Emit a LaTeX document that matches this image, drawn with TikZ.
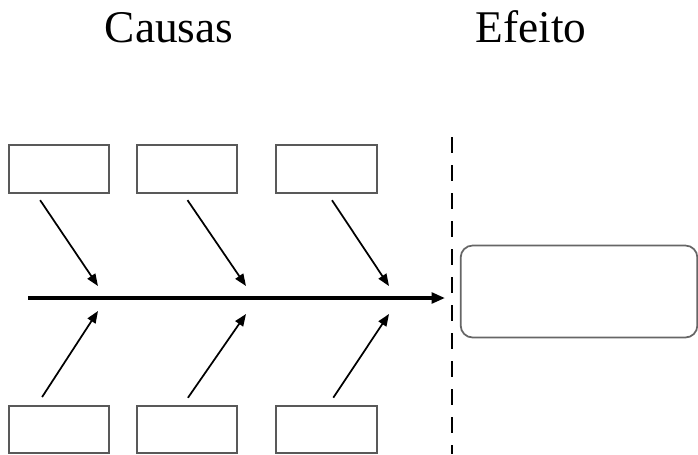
\documentclass[tikz,border=0pt]{standalone}
\usepackage{fontspec}
\setmainfont{Liberation Serif}
\usetikzlibrary{arrows.meta,positioning}

\begin{document}
\begin{tikzpicture}[x=0.75pt,y=-0.75pt]
\tikzstyle{causa}=[draw=black!65,line width=1.3pt,minimum width=75.5pt,minimum height=35.5pt,inner sep=0pt]
\tikzstyle{efeito}=[draw=black!60,line width=1.3pt,rounded corners=9pt,minimum width=177.5pt,minimum height=69pt,inner sep=0pt]
\tikzstyle{seta}=[line width=1.3pt,-{Triangle[length=9pt,width=7pt]}]
\tikzstyle{titulo}=[anchor=base,font=\fontsize{34}{40}\selectfont]

\useasboundingbox (0,0) rectangle (698,454);

\node[titulo] (causas) at (169,42) {Causas};
\node[titulo] (efeitotitulo) at (531,42) {Efeito};

\node[causa] (c1) at (59,169) {};
\node[causa] (c2) at (187,169) {};
\node[causa] (c3) at (326.5,169) {};
\node[causa] (c4) [below = 158.5pt of c1] {};
\node[causa] (c5) [below = 158.5pt of c2] {};
\node[causa] (c6) [below = 158.5pt of c3] {};

\node[efeito] (ef) at (579,291.5) {};

\coordinate (cauda) at (28,298);
\coordinate (ponta) at (445,298);
\coordinate (h1) at (98,286);
\coordinate (h2) at (246,286);
\coordinate (h3) at (389,286);
\coordinate (h4) at (98,311);
\coordinate (h5) at (246,314);
\coordinate (h6) at (389,314);
\coordinate (linhatopo) at (452,137);
\coordinate (linhabase) at (452,454);

\draw[line width=2.2pt,dash pattern=on 12pt off 9pt] (linhatopo) -- (linhabase);
\draw[line width=2.4pt,-{Triangle[length=10pt,width=8pt]}] (cauda) -- (ponta);

\draw[seta,shorten <=6pt] ([xshift=-17.5pt]c1.south) -- (h1);
\draw[seta,shorten <=6pt] ([xshift=-3pt]c2.south) -- (h2);
\draw[seta,shorten <=6pt] ([xshift=0.8pt]c3.south) -- (h3);
\draw[seta,shorten <=7pt] ([xshift=-16.5pt]c4.north) -- (h4);
\draw[seta,shorten <=6.5pt] ([xshift=-3pt]c5.north) -- (h5);
\draw[seta,shorten <=6.5pt] ([xshift=1.5pt]c6.north) -- (h6);
\end{tikzpicture}
\end{document}
